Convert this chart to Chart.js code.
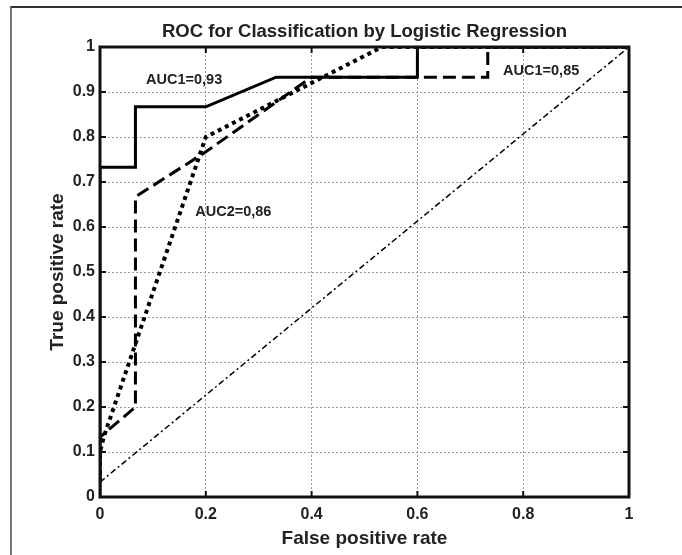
<!DOCTYPE html>
<html>
<head>
<meta charset="utf-8">
<script src="https://cdn.jsdelivr.net/npm/chart.js@4.4.1/dist/chart.umd.min.js"></script>
<style>
  html, body { margin: 0; padding: 0; background: #fff; overflow: hidden; }
  #wrap { position: relative; width: 682px; height: 555px; }
  #frame { position: absolute; left: 10px; top: 6px; right: 0; bottom: 0; border-top: 2px solid #333; border-left: 2px solid #777; }
  canvas { position: absolute; left: 0; top: 0; }
</style>
</head>
<body>
<div id="wrap">
  <div id="frame"></div>
  <canvas id="rocChart" width="682" height="555"></canvas>
</div>
<script>
// ROC curve points
const fpr1 = [0, 0, 0.067, 0.067, 0.2, 0.333, 0.6, 0.6, 1];
const tpr1 = [0, 0.733, 0.733, 0.867, 0.867, 0.933, 0.933, 1, 1];

const fpr2 = [0, 0, 0.067, 0.067, 0.2, 0.4, 0.733, 0.733, 1];
const tpr2 = [0.033, 0.133, 0.2, 0.667, 0.767, 0.933, 0.933, 1, 1];

const fpr3 = [0, 0, 0.007, 0.2, 0.533, 1];
const tpr3 = [0.033, 0.1, 0.133, 0.8, 1, 1];

const fprDiag = [0, 1];
const tprDiag = [0.033, 1];

const tickValues = [0, 0.1, 0.2, 0.3, 0.4, 0.5, 0.6, 0.7, 0.8, 0.9, 1];
const xTickValues = [0, 0.2, 0.4, 0.6, 0.8, 1];

const labelTexts = ['AUC1=0,93', 'AUC1=0,85', 'AUC2=0,86'];
const labelX = [0.087, 0.762, 0.18];
const labelY = [0.927, 0.947, 0.633];

const FONT = 'Arial, "Liberation Sans", Helvetica, sans-serif';
const TEXT = '#222';

function toPoints(xs, ys) {
    return xs.map((x, i) => ({ x: x, y: ys[i] }));
}

// frame, inward ticks and the AUC labels
const boxPlugin = {
    id: 'box',
    afterDatasetsDraw(chart) {
        const { ctx, chartArea: a, scales } = chart;
        ctx.save();
        ctx.strokeStyle = '#111';
        ctx.lineWidth = 2;
        xTickValues.forEach(v => {
            const px = scales.x.getPixelForValue(v);
            ctx.beginPath();
            ctx.moveTo(px, a.bottom); ctx.lineTo(px, a.bottom - 6);
            ctx.moveTo(px, a.top); ctx.lineTo(px, a.top + 6);
            ctx.stroke();
        });
        tickValues.forEach(v => {
            const py = scales.y.getPixelForValue(v);
            ctx.beginPath();
            ctx.moveTo(a.left, py); ctx.lineTo(a.left + 6, py);
            ctx.moveTo(a.right, py); ctx.lineTo(a.right - 6, py);
            ctx.stroke();
        });
        ctx.lineWidth = 3;
        ctx.strokeRect(a.left, a.top, a.right - a.left, a.bottom - a.top);

        ctx.fillStyle = TEXT;
        ctx.font = 'bold 14.5px ' + FONT;
        ctx.textBaseline = 'middle';
        ctx.textAlign = 'left';
        labelTexts.forEach((t, i) => {
            ctx.fillText(t, scales.x.getPixelForValue(labelX[i]), scales.y.getPixelForValue(labelY[i]));
        });
        ctx.restore();
    }
};

const ctx = document.getElementById('rocChart').getContext('2d');
new Chart(ctx, {
    type: 'scatter',
    data: {
        datasets: [
            {
                label: 'ROC 1',
                data: toPoints(fpr1, tpr1),
                borderColor: '#000',
                borderWidth: 3
            },
            {
                label: 'ROC 2',
                data: toPoints(fpr2, tpr2),
                borderColor: '#000',
                borderWidth: 3,
                borderDash: [13, 6]
            },
            {
                label: 'ROC 3',
                data: toPoints(fpr3, tpr3),
                borderColor: '#000',
                borderWidth: 4,
                borderDash: [4, 4]
            },
            {
                label: 'Chance',
                data: toPoints(fprDiag, tprDiag),
                borderColor: '#000',
                borderWidth: 1.5,
                borderDash: [6, 3, 2, 3]
            }
        ]
    },
    options: {
        responsive: false,
        animation: false,
        showLine: true,
        elements: {
            point: { radius: 0, hoverRadius: 0 },
            line: { tension: 0, borderCapStyle: 'butt', fill: false }
        },
        layout: { padding: { left: 0, right: 53, top: 0, bottom: 0 } },
        plugins: {
            legend: { display: false },
            tooltip: { enabled: false },
            title: {
                display: true,
                fullSize: false,
                text: 'ROC for Classification by Logistic Regression',
                color: TEXT,
                font: { family: FONT, size: 18.5, weight: 'bold' },
                padding: { top: 21, bottom: 3.8 }
            }
        },
        scales: {
            x: {
                type: 'linear',
                min: 0,
                max: 1,
                afterFit: s => { s.height = 58; },
                afterBuildTicks: s => { s.ticks = xTickValues.map(v => ({ value: v })); },
                ticks: {
                    color: TEXT,
                    padding: 8,
                    font: { family: FONT, size: 16, weight: 'bold' },
                    callback: v => String(v)
                },
                grid: { color: '#9a9a9a', lineWidth: 1, drawTicks: false },
                border: { display: false, dash: [2, 2] },
                title: {
                    display: true,
                    text: 'False positive rate',
                    color: TEXT,
                    font: { family: FONT, size: 19, weight: 'bold' },
                    padding: { top: 0, bottom: 4.6 }
                }
            },
            y: {
                type: 'linear',
                min: 0,
                max: 1,
                afterFit: s => { s.width = 100; },
                afterBuildTicks: s => { s.ticks = tickValues.map(v => ({ value: v })); },
                ticks: {
                    color: TEXT,
                    padding: 5,
                    font: { family: FONT, size: 16, weight: 'bold' },
                    callback: v => String(v)
                },
                grid: { color: '#9a9a9a', lineWidth: 1, drawTicks: false },
                border: { display: false, dash: [2, 2] },
                title: {
                    display: true,
                    text: 'True positive rate',
                    color: TEXT,
                    font: { family: FONT, size: 19, weight: 'bold' },
                    padding: { top: 46.6, bottom: 0 }
                }
            }
        }
    },
    plugins: [boxPlugin]
});
</script>
</body>
</html>
